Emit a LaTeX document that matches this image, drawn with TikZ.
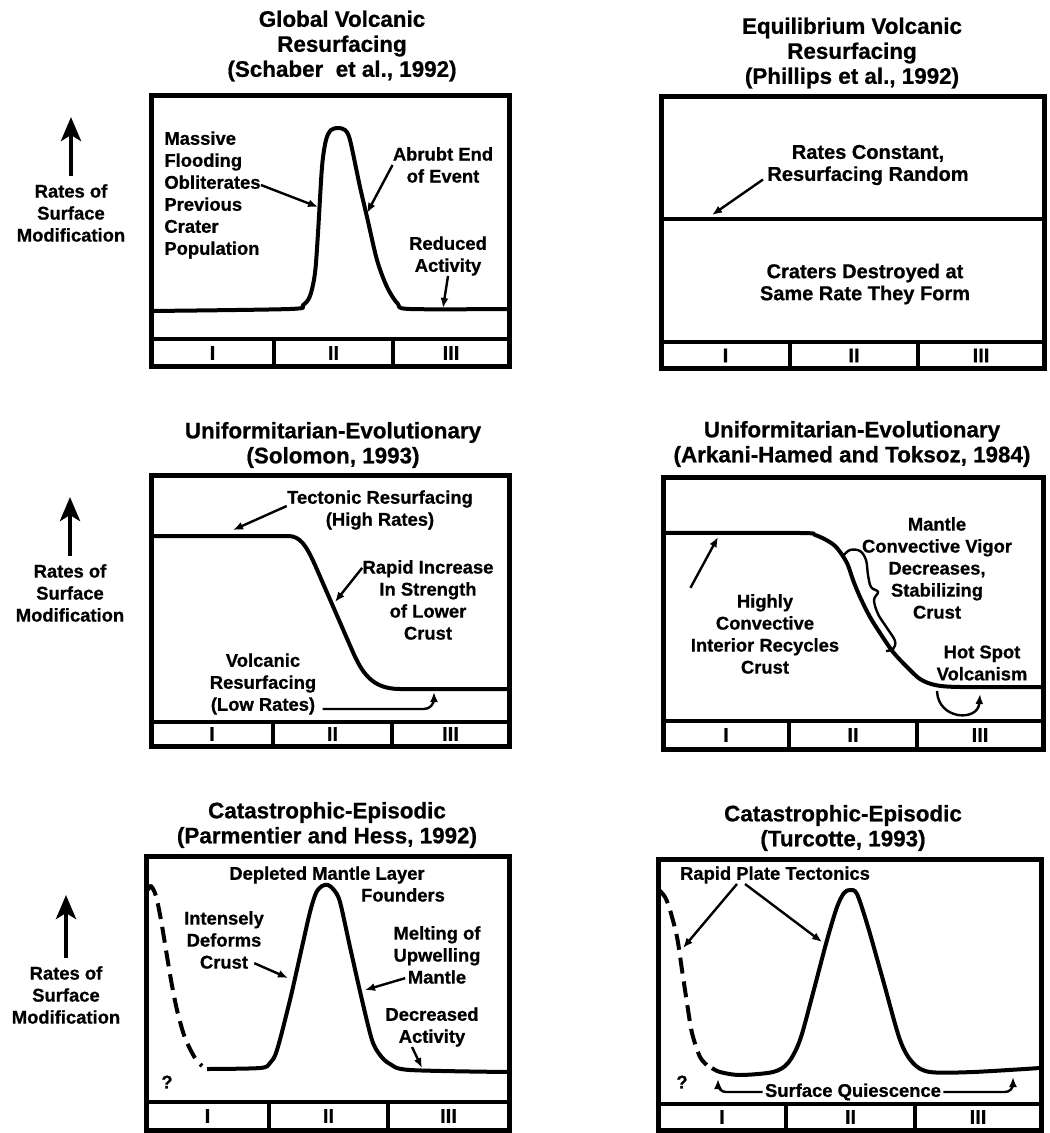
\documentclass[tikz,border=0pt]{standalone}
\usepackage{fontspec}
\setmainfont{Liberation Sans}[BoldFeatures={FakeBold=0.8}]
\usetikzlibrary{arrows.meta}
\def\phaseframe(#1,#2,#3,#4)(#5:#6:#7)#8{%
  \draw[strip] (#1,#5) -- (#3,#5) (#6,#5) -- (#6,#4) (#7,#5) -- (#7,#4);
  \draw[boxline] (#1,#2) rectangle (#3,#4);
  \node[phase] (#8-1) at ({(#1+#6)/2},{(#5+#4)/2}) {I};
  \node[phase] (#8-2) at ({(#6+#7)/2},{(#5+#4)/2}) {II};
  \node[phase] (#8-3) at ({(#7+#3)/2},{(#5+#4)/2}) {III};}

\begin{document}
\begin{tikzpicture}[x=0.5pt, y=-0.5pt,
    boxline/.style={line width=2.5pt},
    strip/.style={line width=2pt},
    rate/.style={line width=2pt, line join=round},
    guess/.style={rate, dash pattern=on 8pt off 4pt},
    pointer/.style={line width=1.2pt, -{Latex[length=5pt,width=4pt]}},
    axisarrow/.style={line width=2.2pt, -{Stealth[length=12pt,width=10pt,inset=3pt]}},
    ttl/.style={font=\fontsize{11.2}{12.5}\selectfont\bfseries, align=center, inner sep=0pt},
    lbl/.style={font=\fontsize{9.2}{11}\selectfont\bfseries, align=center, inner sep=0pt},
    lblbig/.style={lbl, font=\fontsize{10}{11}\selectfont\bfseries},
    phase/.style={font=\fontsize{10}{10}\selectfont\bfseries, inner sep=0pt}]
	%%%%% START %%%%%
	\useasboundingbox (0,0) rectangle (1049,1133);

	% axis labels on the left
	\node[lbl] (rates1) at (71,213) {Rates of\\Surface\\Modification};
	\coordinate (up1) at (71,117);
	\draw[axisarrow] ([yshift=4pt]rates1.north) -- (up1);
	\node[lbl] (rates2) at (70,593) {Rates of\\Surface\\Modification};
	\coordinate (up2) at (70,497);
	\draw[axisarrow] ([yshift=4pt]rates2.north) -- (up2);
	\node[lbl] (rates3) at (66,995) {Rates of\\Surface\\Modification};
	\coordinate (up3) at (66,895);
	\draw[axisarrow] ([yshift=4pt]rates3.north) -- (up3);

	% global volcanic resurfacing
	\node[ttl] (title1) at (342,46) {Global Volcanic\\Resurfacing\\(Schaber\ \ et al., 1992)};
	\phaseframe(151,96,509,367)(339:274:393){p1}
	\draw[rate] plot[smooth, tension=0.5] coordinates {(151,311) (290,309) (303,305) (310,296) (315,273) (318,233) (322,167) (326,140) (331,130) (338,128) (345,130) (350,140) (360,187) (367,217) (377,260) (387,287) (398,304) (410,309) (508,309)};
	\node[lbl, align=left, anchor=west] (flood) at (164,195) {Massive\\Flooding\\Obliterates\\Previous\\Crater\\Population};
	\node[lbl] (abrupt) at (443,165) {Abrubt End\\of Event};
	\node[lbl] (reduced) at (448,256) {Reduced\\Activity};
	\coordinate (floodtip) at (318,207);
	\coordinate (abrupttip) at (367,213);
	\coordinate (reducedtip) at (443,308);
	\draw[pointer] ([yshift=5pt]flood.east) -- (floodtip);
	\draw[pointer] (abrupt.west) -- (abrupttip);
	\draw[pointer] (reduced.south) -- (reducedtip);

	% equilibrium volcanic resurfacing
	\node[ttl] (title2) at (852,53) {Equilibrium Volcanic\\Resurfacing\\(Phillips et al., 1992)};
	\phaseframe(661,97,1044,369)(342:790:918){p2}
	\draw[rate] (661,219) -- (1044,219);
	\node[lblbig] (constant) at (868,165) {Rates Constant,\\Resurfacing Random};
	\node[lblbig] (destroyed) at (865,284) {Craters Destroyed at\\Same Rate They Form};
	\coordinate (consttip) at (712,215);
	\draw[pointer] ([shift={(-2pt,3pt)}]constant.south west) -- (consttip);

	% uniformitarian, solomon
	\node[ttl] (title3) at (333,445) {Uniformitarian-Evolutionary\\(Solomon, 1993)};
	\phaseframe(151,475,509,746)(722:273:392){p3}
	\draw[rate] (151,536) -- (288,536) .. controls (300,536) and (306,545) .. (315,565) -- (352,650) .. controls (362,673) and (372,689) .. (400,689) -- (507,689);
	\node[lbl] (tectonic) at (380,510) {Tectonic Resurfacing\\(High Rates)};
	\node[lbl] (rapid) at (428,600) {Rapid Increase\\In Strength\\of Lower\\Crust};
	\node[lbl] (volcanic) at (263,684) {Volcanic\\Resurfacing\\(Low Rates)};
	\coordinate (tectip) at (233,530);
	\coordinate (rapidtip) at (335,602);
	\coordinate (lowtip) at (434,692);
	\draw[pointer] ([yshift=2pt]tectonic.west) -- (tectip);
	\draw[pointer] ([yshift=-4pt]rapid.north west) -- (rapidtip);
	\draw[pointer, rounded corners=5pt] ([shift={(3pt,3pt)}]volcanic.south east) -| (lowtip);

	% uniformitarian, arkani-hamed
	\node[ttl] (title4) at (852,444) {Uniformitarian-Evolutionary\\(Arkani-Hamed and Toksoz, 1984)};
	\phaseframe(663,477,1043,749)(721:789:917){p4}
	\draw[rate] plot[smooth, tension=0.5] coordinates {(663,533) (800,533) (815,535) (828,541) (837,548) (847,563) (853,580) (860,597) (870,617) (880,633) (893,652) (907,667) (920,679) (935,685) (960,687) (1042,687)};
	\draw[line width=1.2pt] plot[smooth, tension=0.6] coordinates {(843,556) (850,550) (860,551) (866,560) (868,575) (871,587) (878,592) (874,600) (878,614) (887,628) (895,641) (893,649) (886,651)};
	\node[lbl] (vigor) at (937,568) {Mantle\\Convective Vigor\\Decreases,\\Stabilizing\\Crust};
	\node[lbl] (highly) at (765,634) {Highly\\Convective\\Interior Recycles\\Crust};
	\node[lbl] (hotspot) at (982,663) {Hot Spot\\Volcanism};
	\coordinate (highlytip) at (718,537);
	\coordinate (loopstart) at (937,691);
	\coordinate (looptip) at (980,694);
	\draw[pointer] ([yshift=3pt]highly.north west) -- (highlytip);
	\draw[pointer] (loopstart) .. controls (938,720) and (978,722) .. (looptip);

	% catastrophic, parmentier and hess
	\node[ttl] (title5) at (327,825) {Catastrophic-Episodic\\(Parmentier and Hess, 1992)};
	\phaseframe(146,856,509,1130)(1102:269:388){p5}
	\draw[rate] plot[smooth, tension=0.5] coordinates {(207,1069) (260,1068) (270,1063) (277,1050) (290,1000) (302,947) (310,912) (316,893) (322,886) (328,885) (334,890) (340,902) (350,947) (362,1000) (372,1040) (380,1055) (390,1064) (410,1070) (508,1072)};
	\draw[guess] plot[smooth, tension=0.5] coordinates {(148,890) (151,886) (156,896) (161,920) (166,950) (171,980) (177,1010) (185,1038) (195,1058) (202,1066)};
	\node[lbl] (depleted) at (327,875) {Depleted Mantle Layer};
	\node[lbl] (founders) at (403,895) {Founders};
	\node[lbl] (intense) at (224,940) {Intensely\\Deforms\\Crust};
	\node[lbl] (melting) at (437,955) {Melting of\\Upwelling\\Mantle};
	\node[lbl] (decreased) at (432,1027) {Decreased\\Activity};
	\node[lbl] (query5) at (167,1082) {?};
	\coordinate (intensetip) at (288,978);
	\coordinate (meltingtip) at (365,990);
	\coordinate (decreasedtip) at (422,1068);
	\draw[pointer] ([shift={(-5pt,3pt)}]intense.south east) -- (intensetip);
	\draw[pointer] ([shift={(6pt,3pt)}]melting.south west) -- (meltingtip);
	\draw[pointer] ([xshift=-10pt]decreased.south) -- (decreasedtip);

	% catastrophic, turcotte
	\node[ttl] (title6) at (843,828) {Catastrophic-Episodic\\(Turcotte, 1993)};
	\phaseframe(658,859,1041,1130)(1104:786:915){p6}
	\draw[rate] plot[smooth, tension=0.5] coordinates {(712,1068) (720,1072) (740,1075) (773,1072) (788,1063) (800,1040) (813,993) (827,940) (837,907) (844,893) (850,890) (857,894) (868,927) (883,980) (900,1040) (913,1063) (930,1072) (973,1072) (1040,1068)};
	\draw[guess] plot[smooth, tension=0.5] coordinates {(659,890) (665,897) (670,910) (677,937) (682,970) (687,1003) (692,1033) (700,1057) (708,1066)};
	\node[lbl] (plate) at (775,875) {Rapid Plate Tectonics};
	\node[lbl] (quiet) at (853,1092) {Surface Quiescence};
	\node[lbl] (query6) at (682,1082) {?};
	\coordinate (platetip1) at (683,948);
	\coordinate (platetip2) at (822,942);
	\coordinate (quiettip1) at (718,1079);
	\coordinate (quiettip2) at (1013,1077);
	\draw[pointer] ([xshift=-19pt]plate.south) -- (platetip1);
	\draw[pointer] ([xshift=-15pt]plate.south) -- (platetip2);
	\draw[pointer, rounded corners=4pt] ([xshift=-1pt]quiet.west) -| (quiettip1);
	\draw[pointer, rounded corners=4pt] ([xshift=1pt]quiet.east) -| (quiettip2);

	%%%%% END %%%%%
\end{tikzpicture}
\end{document}
